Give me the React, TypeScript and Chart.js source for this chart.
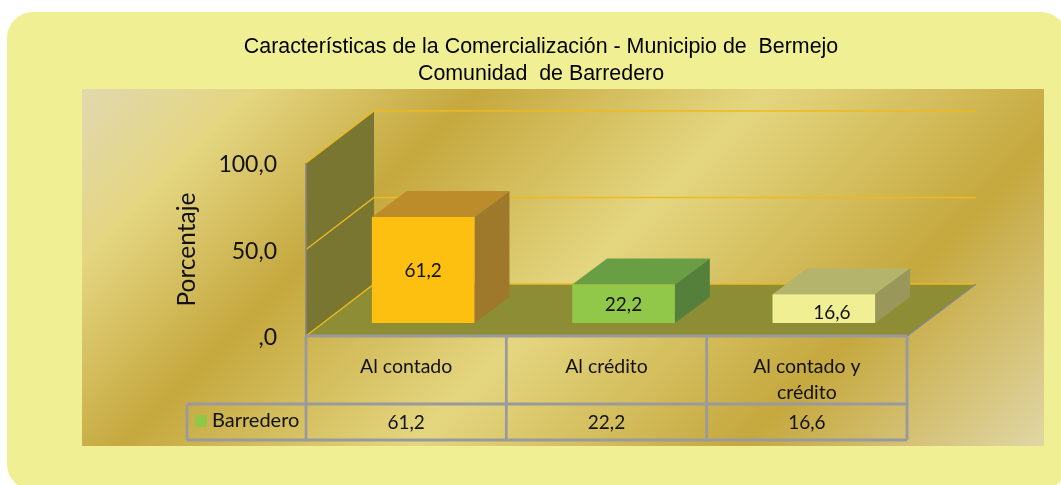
import React, { useEffect, useRef } from "react";
import { Chart, registerables } from "chart.js";

Chart.register(...registerables);

const titleLines = ["Características de la Comercialización - Municipio de  Bermejo", "Comunidad  de Barredero"];
const categories = [["Al contado"], ["Al crédito"], ["Al contado y", "crédito"]];
const seriesName = "Barredero";
const values = [61.2, 22.2, 16.6];
const frontColors = ["#FDBF10", "#92C84A", "#F0EF94"];
const topColors = ["#BD8C2A", "#6A9E44", "#B5B46C"];
const sideColors = ["#9E782B", "#53803A", "#99985A"];
const labelNudges = [[0, 1], [0, 1], [8, 4]];
const yAxisTitle = "Porcentaje";
const FONT = "Lato, Carlito, sans-serif";

const fmt = (v: number) => (v === 0 ? ",0" : v.toFixed(1).replace(".", ","));

const WALL_DX = 68;
const WALL_DY = -52;
const BAR_DX = 17;
const BAR_DY = -13;
const BOX_DX = 35;
const BOX_DY = -26;
const GRID = "#F0B91E";
const TABLE = "#9A9A9E";

function poly(ctx: CanvasRenderingContext2D, pts: number[][], fill: string) {
  ctx.beginPath();
  pts.forEach((p, i) => (i ? ctx.lineTo(p[0], p[1]) : ctx.moveTo(p[0], p[1])));
  ctx.closePath();
  ctx.fillStyle = fill;
  ctx.fill();
}

function seg(ctx: CanvasRenderingContext2D, pts: number[][], color: string, w: number) {
  ctx.beginPath();
  pts.forEach((p, i) => (i ? ctx.lineTo(p[0], p[1]) : ctx.moveTo(p[0], p[1])));
  ctx.strokeStyle = color;
  ctx.lineWidth = w;
  ctx.stroke();
}

const scene3d = {
  id: "scene3d",
  beforeDraw(chart: any) {
    const ctx: CanvasRenderingContext2D = chart.ctx;
    ctx.save();
    ctx.beginPath();
    ctx.roundRect(7, 12, 1060, 478, 26);
    ctx.fillStyle = "#F0EF94";
    ctx.fill();
    const g = ctx.createLinearGradient(82, 89, 741.5, 748.5);
    g.addColorStop(0, "#E1D8AE");
    g.addColorStop(0.13, "#E4D682");
    g.addColorStop(0.3, "#C5A83E");
    g.addColorStop(0.52, "#E4D680");
    g.addColorStop(0.77, "#C5A83E");
    g.addColorStop(1, "#E1D7A5");
    ctx.fillStyle = g;
    ctx.fillRect(82, 89, 962, 357);
    ctx.restore();
  },
  beforeDatasetsDraw(chart: any) {
    const ctx: CanvasRenderingContext2D = chart.ctx;
    const { left, right, top, bottom } = chart.chartArea;
    const y = chart.scales.y;
    ctx.save();
    poly(ctx, [[left, top], [left + WALL_DX, top + WALL_DY], [left + WALL_DX, bottom + WALL_DY], [left, bottom]], "#787631");
    poly(ctx, [[left, bottom], [left + WALL_DX, bottom + WALL_DY], [right + WALL_DX + 1, bottom + WALL_DY], [right, bottom]], "#8D8D35");
    y.ticks.forEach((t: any) => {
      const py = y.getPixelForValue(t.value);
      seg(ctx, [[left, py], [left + WALL_DX, py + WALL_DY], [right + WALL_DX + 1, py + WALL_DY]], GRID, 1.4);
    });
    seg(ctx, [[left, top], [left, bottom]], "#85858A", 1.5);
    seg(ctx, [[right, bottom], [right + WALL_DX + 1, bottom + WALL_DY]], "#85858A", 1.5);
    ctx.restore();
  },
  beforeDatasetDraw(chart: any, args: any) {
    const ctx: CanvasRenderingContext2D = chart.ctx;
    const meta = chart.getDatasetMeta(args.index);
    ctx.save();
    meta.data.forEach((el: any, i: number) => {
      const x0 = el.x - el.width / 2 + BAR_DX;
      const x1 = el.x + el.width / 2 + BAR_DX;
      const yt = el.y + BAR_DY;
      const yb = el.base + BAR_DY;
      poly(ctx, [[x0, yt], [x0 + BOX_DX, yt + BOX_DY], [x1 + BOX_DX, yt + BOX_DY], [x1, yt]], topColors[i]);
      poly(ctx, [[x1, yt], [x1 + BOX_DX, yt + BOX_DY], [x1 + BOX_DX, yb + BOX_DY], [x1, yb]], sideColors[i]);
    });
    ctx.translate(BAR_DX, BAR_DY);
  },
  afterDatasetDraw(chart: any) {
    chart.ctx.restore();
  },
  afterDatasetsDraw(chart: any) {
    const ctx: CanvasRenderingContext2D = chart.ctx;
    const { left, right, bottom } = chart.chartArea;
    const x = chart.scales.x;
    const meta = chart.getDatasetMeta(0);
    const rowTop = bottom + 68;
    const rowBottom = bottom + 104;
    const tableLeft = left - 119;
    ctx.save();
    seg(ctx, [[left, bottom], [right, bottom]], TABLE, 2.8);
    seg(ctx, [[tableLeft, rowTop], [right, rowTop]], TABLE, 2.8);
    seg(ctx, [[tableLeft, rowBottom], [right, rowBottom]], TABLE, 2.8);
    seg(ctx, [[tableLeft, rowTop], [tableLeft, rowBottom]], TABLE, 2.8);
    const n = categories.length;
    for (let i = 0; i <= n; i++) {
      const px = i < n ? x.getPixelForValue(i) - (right - left) / n / 2 : right;
      seg(ctx, [[px, bottom], [px, rowBottom]], TABLE, 2.8);
    }
    ctx.fillStyle = "#111";
    ctx.textBaseline = "middle";
    ctx.textAlign = "center";
    ctx.font = `19px ${FONT}`;
    values.forEach((v, i) => {
      ctx.fillText(fmt(v), x.getPixelForValue(i), rowTop + 19);
      const el = meta.data[i];
      ctx.fillText(
        fmt(v),
        el.x + BAR_DX + labelNudges[i][0],
        (el.y + el.base) / 2 + BAR_DY + labelNudges[i][1]
      );
    });
    ctx.fillStyle = "#92C84A";
    ctx.fillRect(tableLeft + 8, rowTop + 11, 12, 12);
    ctx.fillStyle = "#111";
    ctx.textAlign = "left";
    ctx.font = `20px ${FONT}`;
    ctx.fillText(seriesName, tableLeft + 25, rowTop + 16.5);
    ctx.restore();
  },
};

export default function App() {
  const ref = useRef<HTMLCanvasElement>(null);
  useEffect(() => {
    const chart = new Chart(ref.current!, {
      type: "bar",
      data: {
        labels: categories as any,
        datasets: [
          {
            label: seriesName,
            data: values,
            backgroundColor: frontColors,
            categoryPercentage: 1,
            barPercentage: 0.512,
            clip: false as any,
          },
        ],
      },
      plugins: [scene3d],
      options: {
        responsive: false,
        animation: false,
        layout: { padding: { left: 175, right: 154, top: 34, bottom: 45 } },
        plugins: {
          legend: { display: false },
          tooltip: { enabled: false },
          title: {
            display: true,
            text: titleLines,
            color: "#000",
            font: { family: "'Liberation Sans', Arial, sans-serif", size: 21.4, weight: "normal", lineHeight: 1.25 },
            padding: { top: 0, bottom: 75.5 },
          },
        },
        scales: {
          x: {
            grid: { display: false },
            border: { display: false },
            afterFit: (s: any) => {
              s.height = 104;
            },
            ticks: {
              autoSkip: false,
              maxRotation: 0,
              color: "#111",
              padding: 10,
              font: { family: FONT, size: 19.5, lineHeight: 1.33 },
            },
          },
          y: {
            min: 0,
            max: 100,
            grid: { display: false },
            border: { display: false },
            afterFit: (s: any) => {
              s.width = 131;
            },
            title: {
              display: true,
              text: yAxisTitle,
              color: "#111",
              font: { family: FONT, size: 24.5, weight: "normal", lineHeight: 0.95 },
              padding: { top: 0, bottom: 0 },
            },
            ticks: {
              stepSize: 50,
              color: "#111",
              padding: 21,
              labelOffset: 2,
              font: { family: FONT, size: 23 },
              callback: (v: any) => fmt(Number(v)),
            },
          },
        },
      },
    });
    return () => chart.destroy();
  }, []);
  return (
    <canvas
      ref={ref}
      width={1061}
      height={485}
      style={{ position: "absolute", left: 0, top: 0, display: "block" }}
    />
  );
}
